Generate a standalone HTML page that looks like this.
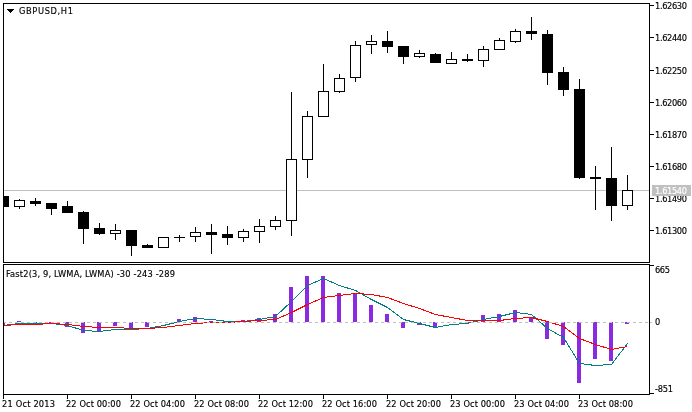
<!DOCTYPE html>
<html><head><meta charset="utf-8"><title>GBPUSD,H1</title>
<style>html,body{margin:0;padding:0;background:#fff;width:692px;height:412px;overflow:hidden}svg{display:block}text{white-space:pre}</style>
</head><body><svg width="692" height="412" viewBox="0 0 692 412" shape-rendering="crispEdges" font-family="'DejaVu Sans Condensed', 'Liberation Sans', sans-serif" font-size="9.2px" fill="#000"><defs><clipPath id="cm"><rect x="4" y="4" width="645" height="258"/></clipPath><clipPath id="ci"><rect x="4" y="265" width="645" height="129"/></clipPath></defs><rect x="4" y="190" width="645" height="1" fill="#c0c0c0"/><g clip-path="url(#cm)"><rect x="3" y="196" width="1" height="11" fill="#000"/><rect x="-2" y="196" width="11" height="11" fill="#000"/><rect x="19" y="199" width="1" height="10" fill="#000"/><rect x="14" y="200" width="11" height="7" fill="#000"/><rect x="15" y="201" width="9" height="5" fill="#fff"/><rect x="35" y="198" width="1" height="8" fill="#000"/><rect x="30" y="201" width="11" height="3" fill="#000"/><rect x="51" y="203" width="1" height="12" fill="#000"/><rect x="46" y="203" width="11" height="6" fill="#000"/><rect x="67" y="201" width="1" height="12" fill="#000"/><rect x="62" y="206" width="11" height="7" fill="#000"/><rect x="83" y="211" width="1" height="33" fill="#000"/><rect x="78" y="212" width="11" height="17" fill="#000"/><rect x="99" y="223" width="1" height="12" fill="#000"/><rect x="94" y="228" width="11" height="6" fill="#000"/><rect x="115" y="224" width="1" height="16" fill="#000"/><rect x="110" y="230" width="11" height="4" fill="#000"/><rect x="111" y="231" width="9" height="2" fill="#fff"/><rect x="131" y="230" width="1" height="26" fill="#000"/><rect x="126" y="230" width="11" height="16" fill="#000"/><rect x="147" y="244" width="1" height="4" fill="#000"/><rect x="142" y="245" width="11" height="3" fill="#000"/><rect x="163" y="237" width="1" height="11" fill="#000"/><rect x="158" y="237" width="11" height="11" fill="#000"/><rect x="159" y="238" width="9" height="9" fill="#fff"/><rect x="179" y="235" width="1" height="7" fill="#000"/><rect x="174" y="237" width="11" height="1" fill="#000"/><rect x="195" y="227" width="1" height="15" fill="#000"/><rect x="190" y="232" width="11" height="5" fill="#000"/><rect x="191" y="233" width="9" height="3" fill="#fff"/><rect x="211" y="224" width="1" height="30" fill="#000"/><rect x="206" y="232" width="11" height="3" fill="#000"/><rect x="227" y="226" width="1" height="19" fill="#000"/><rect x="222" y="234" width="11" height="4" fill="#000"/><rect x="243" y="229" width="1" height="13" fill="#000"/><rect x="238" y="231" width="11" height="7" fill="#000"/><rect x="239" y="232" width="9" height="5" fill="#fff"/><rect x="259" y="219" width="1" height="24" fill="#000"/><rect x="254" y="226" width="11" height="6" fill="#000"/><rect x="255" y="227" width="9" height="4" fill="#fff"/><rect x="275" y="216" width="1" height="14" fill="#000"/><rect x="270" y="220" width="11" height="7" fill="#000"/><rect x="271" y="221" width="9" height="5" fill="#fff"/><rect x="291" y="92" width="1" height="144" fill="#000"/><rect x="286" y="159" width="11" height="62" fill="#000"/><rect x="287" y="160" width="9" height="60" fill="#fff"/><rect x="307" y="111" width="1" height="67" fill="#000"/><rect x="302" y="116" width="11" height="44" fill="#000"/><rect x="303" y="117" width="9" height="42" fill="#fff"/><rect x="323" y="64" width="1" height="53" fill="#000"/><rect x="318" y="91" width="11" height="26" fill="#000"/><rect x="319" y="92" width="9" height="24" fill="#fff"/><rect x="339" y="74" width="1" height="19" fill="#000"/><rect x="334" y="78" width="11" height="14" fill="#000"/><rect x="335" y="79" width="9" height="12" fill="#fff"/><rect x="355" y="41" width="1" height="41" fill="#000"/><rect x="350" y="45" width="11" height="33" fill="#000"/><rect x="351" y="46" width="9" height="31" fill="#fff"/><rect x="371" y="35" width="1" height="19" fill="#000"/><rect x="366" y="41" width="11" height="4" fill="#000"/><rect x="367" y="42" width="9" height="2" fill="#fff"/><rect x="387" y="31" width="1" height="22" fill="#000"/><rect x="382" y="41" width="11" height="6" fill="#000"/><rect x="403" y="46" width="1" height="18" fill="#000"/><rect x="398" y="46" width="11" height="11" fill="#000"/><rect x="419" y="50" width="1" height="8" fill="#000"/><rect x="414" y="53" width="11" height="4" fill="#000"/><rect x="415" y="54" width="9" height="2" fill="#fff"/><rect x="435" y="53" width="1" height="10" fill="#000"/><rect x="430" y="54" width="11" height="9" fill="#000"/><rect x="451" y="52" width="1" height="12" fill="#000"/><rect x="446" y="59" width="11" height="5" fill="#000"/><rect x="447" y="60" width="9" height="3" fill="#fff"/><rect x="467" y="54" width="1" height="8" fill="#000"/><rect x="462" y="59" width="11" height="2" fill="#000"/><rect x="483" y="46" width="1" height="21" fill="#000"/><rect x="478" y="49" width="11" height="12" fill="#000"/><rect x="479" y="50" width="9" height="10" fill="#fff"/><rect x="499" y="38" width="1" height="12" fill="#000"/><rect x="494" y="40" width="11" height="10" fill="#000"/><rect x="495" y="41" width="9" height="8" fill="#fff"/><rect x="515" y="29" width="1" height="14" fill="#000"/><rect x="510" y="31" width="11" height="11" fill="#000"/><rect x="511" y="32" width="9" height="9" fill="#fff"/><rect x="531" y="17" width="1" height="23" fill="#000"/><rect x="526" y="31" width="11" height="3" fill="#000"/><rect x="547" y="30" width="1" height="55" fill="#000"/><rect x="542" y="34" width="11" height="39" fill="#000"/><rect x="563" y="67" width="1" height="29" fill="#000"/><rect x="558" y="72" width="11" height="18" fill="#000"/><rect x="579" y="79" width="1" height="100" fill="#000"/><rect x="574" y="89" width="11" height="89" fill="#000"/><rect x="595" y="166" width="1" height="44" fill="#000"/><rect x="590" y="177" width="11" height="2" fill="#000"/><rect x="611" y="147" width="1" height="74" fill="#000"/><rect x="606" y="178" width="11" height="28" fill="#000"/><rect x="627" y="175" width="1" height="35" fill="#000"/><rect x="622" y="190" width="11" height="16" fill="#000"/><rect x="623" y="191" width="9" height="14" fill="#fff"/></g><rect x="3.5" y="3.5" width="646" height="259" fill="none" stroke="#000" stroke-width="1"/><rect x="3.5" y="264.5" width="646" height="130" fill="none" stroke="#000" stroke-width="1"/><rect x="650" y="5" width="4" height="1"/><rect x="650" y="37" width="4" height="1"/><rect x="650" y="70" width="4" height="1"/><rect x="650" y="102" width="4" height="1"/><rect x="650" y="134" width="4" height="1"/><rect x="650" y="166" width="4" height="1"/><rect x="650" y="198" width="4" height="1"/><rect x="650" y="230" width="4" height="1"/><rect x="3" y="395" width="1" height="4"/><rect x="67" y="395" width="1" height="4"/><rect x="131" y="395" width="1" height="4"/><rect x="195" y="395" width="1" height="4"/><rect x="259" y="395" width="1" height="4"/><rect x="323" y="395" width="1" height="4"/><rect x="387" y="395" width="1" height="4"/><rect x="451" y="395" width="1" height="4"/><rect x="515" y="395" width="1" height="4"/><rect x="579" y="395" width="1" height="4"/><rect x="7" y="9" width="7" height="1"/><rect x="8" y="10" width="5" height="1"/><rect x="9" y="11" width="3" height="1"/><rect x="10" y="12" width="1" height="1"/><g clip-path="url(#ci)"><rect x="1" y="322" width="4" height="3" fill="#8a2be2"/><rect x="17" y="321" width="4" height="1" fill="#8a2be2"/><rect x="33" y="322" width="4" height="1" fill="#8a2be2"/><rect x="49" y="322" width="4" height="1" fill="#8a2be2"/><rect x="65" y="322" width="4" height="5" fill="#8a2be2"/><rect x="81" y="322" width="4" height="11" fill="#8a2be2"/><rect x="97" y="322" width="4" height="10" fill="#8a2be2"/><rect x="113" y="322" width="4" height="4" fill="#8a2be2"/><rect x="129" y="322" width="4" height="6" fill="#8a2be2"/><rect x="145" y="322" width="4" height="5" fill="#8a2be2"/><rect x="177" y="319" width="4" height="3" fill="#8a2be2"/><rect x="193" y="317" width="4" height="5" fill="#8a2be2"/><rect x="209" y="321" width="4" height="1" fill="#8a2be2"/><rect x="241" y="320" width="4" height="2" fill="#8a2be2"/><rect x="257" y="318" width="4" height="4" fill="#8a2be2"/><rect x="273" y="314" width="4" height="8" fill="#8a2be2"/><rect x="289" y="287" width="4" height="35" fill="#8a2be2"/><rect x="305" y="276" width="4" height="46" fill="#8a2be2"/><rect x="321" y="276" width="4" height="46" fill="#8a2be2"/><rect x="337" y="293" width="4" height="29" fill="#8a2be2"/><rect x="353" y="294" width="4" height="28" fill="#8a2be2"/><rect x="369" y="305" width="4" height="17" fill="#8a2be2"/><rect x="385" y="314" width="4" height="8" fill="#8a2be2"/><rect x="401" y="322" width="4" height="6" fill="#8a2be2"/><rect x="417" y="322" width="4" height="3" fill="#8a2be2"/><rect x="433" y="322" width="4" height="5" fill="#8a2be2"/><rect x="465" y="322" width="4" height="1" fill="#8a2be2"/><rect x="481" y="315" width="4" height="7" fill="#8a2be2"/><rect x="497" y="314" width="4" height="8" fill="#8a2be2"/><rect x="513" y="310" width="4" height="12" fill="#8a2be2"/><rect x="529" y="318" width="4" height="4" fill="#8a2be2"/><rect x="545" y="322" width="4" height="17" fill="#8a2be2"/><rect x="561" y="322" width="4" height="23" fill="#8a2be2"/><rect x="577" y="322" width="4" height="61" fill="#8a2be2"/><rect x="593" y="322" width="4" height="37" fill="#8a2be2"/><rect x="609" y="322" width="4" height="39" fill="#8a2be2"/><rect x="625" y="322" width="4" height="2" fill="#8a2be2"/><polyline points="3.5,325.5 19.5,323.5 35.5,323.5 51.5,323.5 67.5,325.5 83.5,330.5 99.5,331.5 115.5,329.5 131.5,329.5 147.5,328.5 163.5,325.5 179.5,321.5 195.5,318.5 211.5,319.5 227.5,321.5 243.5,321.5 259.5,319.5 275.5,316.5 291.5,301.5 307.5,285.5 323.5,278.5 339.5,285.5 355.5,290.5 371.5,299.5 387.5,307.5 403.5,319.5 419.5,323.5 435.5,327.5 451.5,324.5 467.5,323.5 483.5,319.5 499.5,316.5 515.5,312.5 531.5,314.5 547.5,328.5 563.5,337.5 579.5,363.5 595.5,365.5 611.5,364.5 627.5,343.5" fill="none" stroke="#008080" stroke-width="1"/><polyline points="3.5,325.5 19.5,324.5 35.5,324.5 51.5,323.5 67.5,324.5 83.5,326.5 99.5,327.5 115.5,327.5 131.5,328.5 147.5,328.5 163.5,327.5 179.5,325.5 195.5,323.5 211.5,322.5 227.5,322.5 243.5,321.5 259.5,320.5 275.5,319.5 291.5,312.5 307.5,304.5 323.5,297.5 339.5,295.5 355.5,293.5 371.5,294.5 387.5,297.5 403.5,303.5 419.5,308.5 435.5,314.5 451.5,317.5 467.5,320.5 483.5,320.5 499.5,320.5 515.5,318.5 531.5,317.5 547.5,321.5 563.5,326.5 579.5,338.5 595.5,344.5 611.5,349.5 627.5,346.5" fill="none" stroke="#ff0000" stroke-width="1"/></g><line x1="3" y1="322.5" x2="649" y2="322.5" stroke="#c0c0c0" stroke-width="1" stroke-dasharray="3 3" clip-path="url(#ci)"/><rect x="650" y="322" width="2" height="1" fill="#c0c0c0"/><rect x="650" y="265" width="4" height="1"/><rect x="650" y="393" width="4" height="1"/><g style="filter:grayscale(1)" stroke="#000" stroke-width="0.15"><text x="655" y="9" textLength="32" lengthAdjust="spacing">1.62630</text><text x="655" y="41" textLength="32" lengthAdjust="spacing">1.62440</text><text x="655" y="74" textLength="32" lengthAdjust="spacing">1.62250</text><text x="655" y="106" textLength="32" lengthAdjust="spacing">1.62060</text><text x="655" y="138" textLength="32" lengthAdjust="spacing">1.61870</text><text x="655" y="170" textLength="32" lengthAdjust="spacing">1.61680</text><text x="655" y="202" textLength="32" lengthAdjust="spacing">1.61490</text><text x="655" y="234" textLength="32" lengthAdjust="spacing">1.61300</text><text x="2" y="407" textLength="53" lengthAdjust="spacing">21 Oct 2013</text><text x="66" y="407" textLength="55" lengthAdjust="spacing">22 Oct 00:00</text><text x="130" y="407" textLength="55" lengthAdjust="spacing">22 Oct 04:00</text><text x="194" y="407" textLength="55" lengthAdjust="spacing">22 Oct 08:00</text><text x="258" y="407" textLength="55" lengthAdjust="spacing">22 Oct 12:00</text><text x="322" y="407" textLength="55" lengthAdjust="spacing">22 Oct 16:00</text><text x="386" y="407" textLength="55" lengthAdjust="spacing">22 Oct 20:00</text><text x="450" y="407" textLength="55" lengthAdjust="spacing">23 Oct 00:00</text><text x="514" y="407" textLength="55" lengthAdjust="spacing">23 Oct 04:00</text><text x="578" y="407" textLength="55" lengthAdjust="spacing">23 Oct 08:00</text><text x="19" y="14" textLength="54" lengthAdjust="spacing">GBPUSD,H1</text><text x="655" y="273" textLength="15" lengthAdjust="spacing">665</text><text x="655" y="325">0</text><text x="655" y="392" textLength="18" lengthAdjust="spacing">-851</text><text x="6" y="277" textLength="169" lengthAdjust="spacing">Fast2(3, 9, LWMA, LWMA) -30 -243 -289</text></g><rect x="652" y="185" width="39" height="11" fill="#c0c0c0"/><g style="filter:grayscale(1)" stroke="#fff" stroke-width="0.15"><text x="655" y="194" fill="#fff" textLength="32" lengthAdjust="spacing">1.61540</text></g></svg></body></html>
